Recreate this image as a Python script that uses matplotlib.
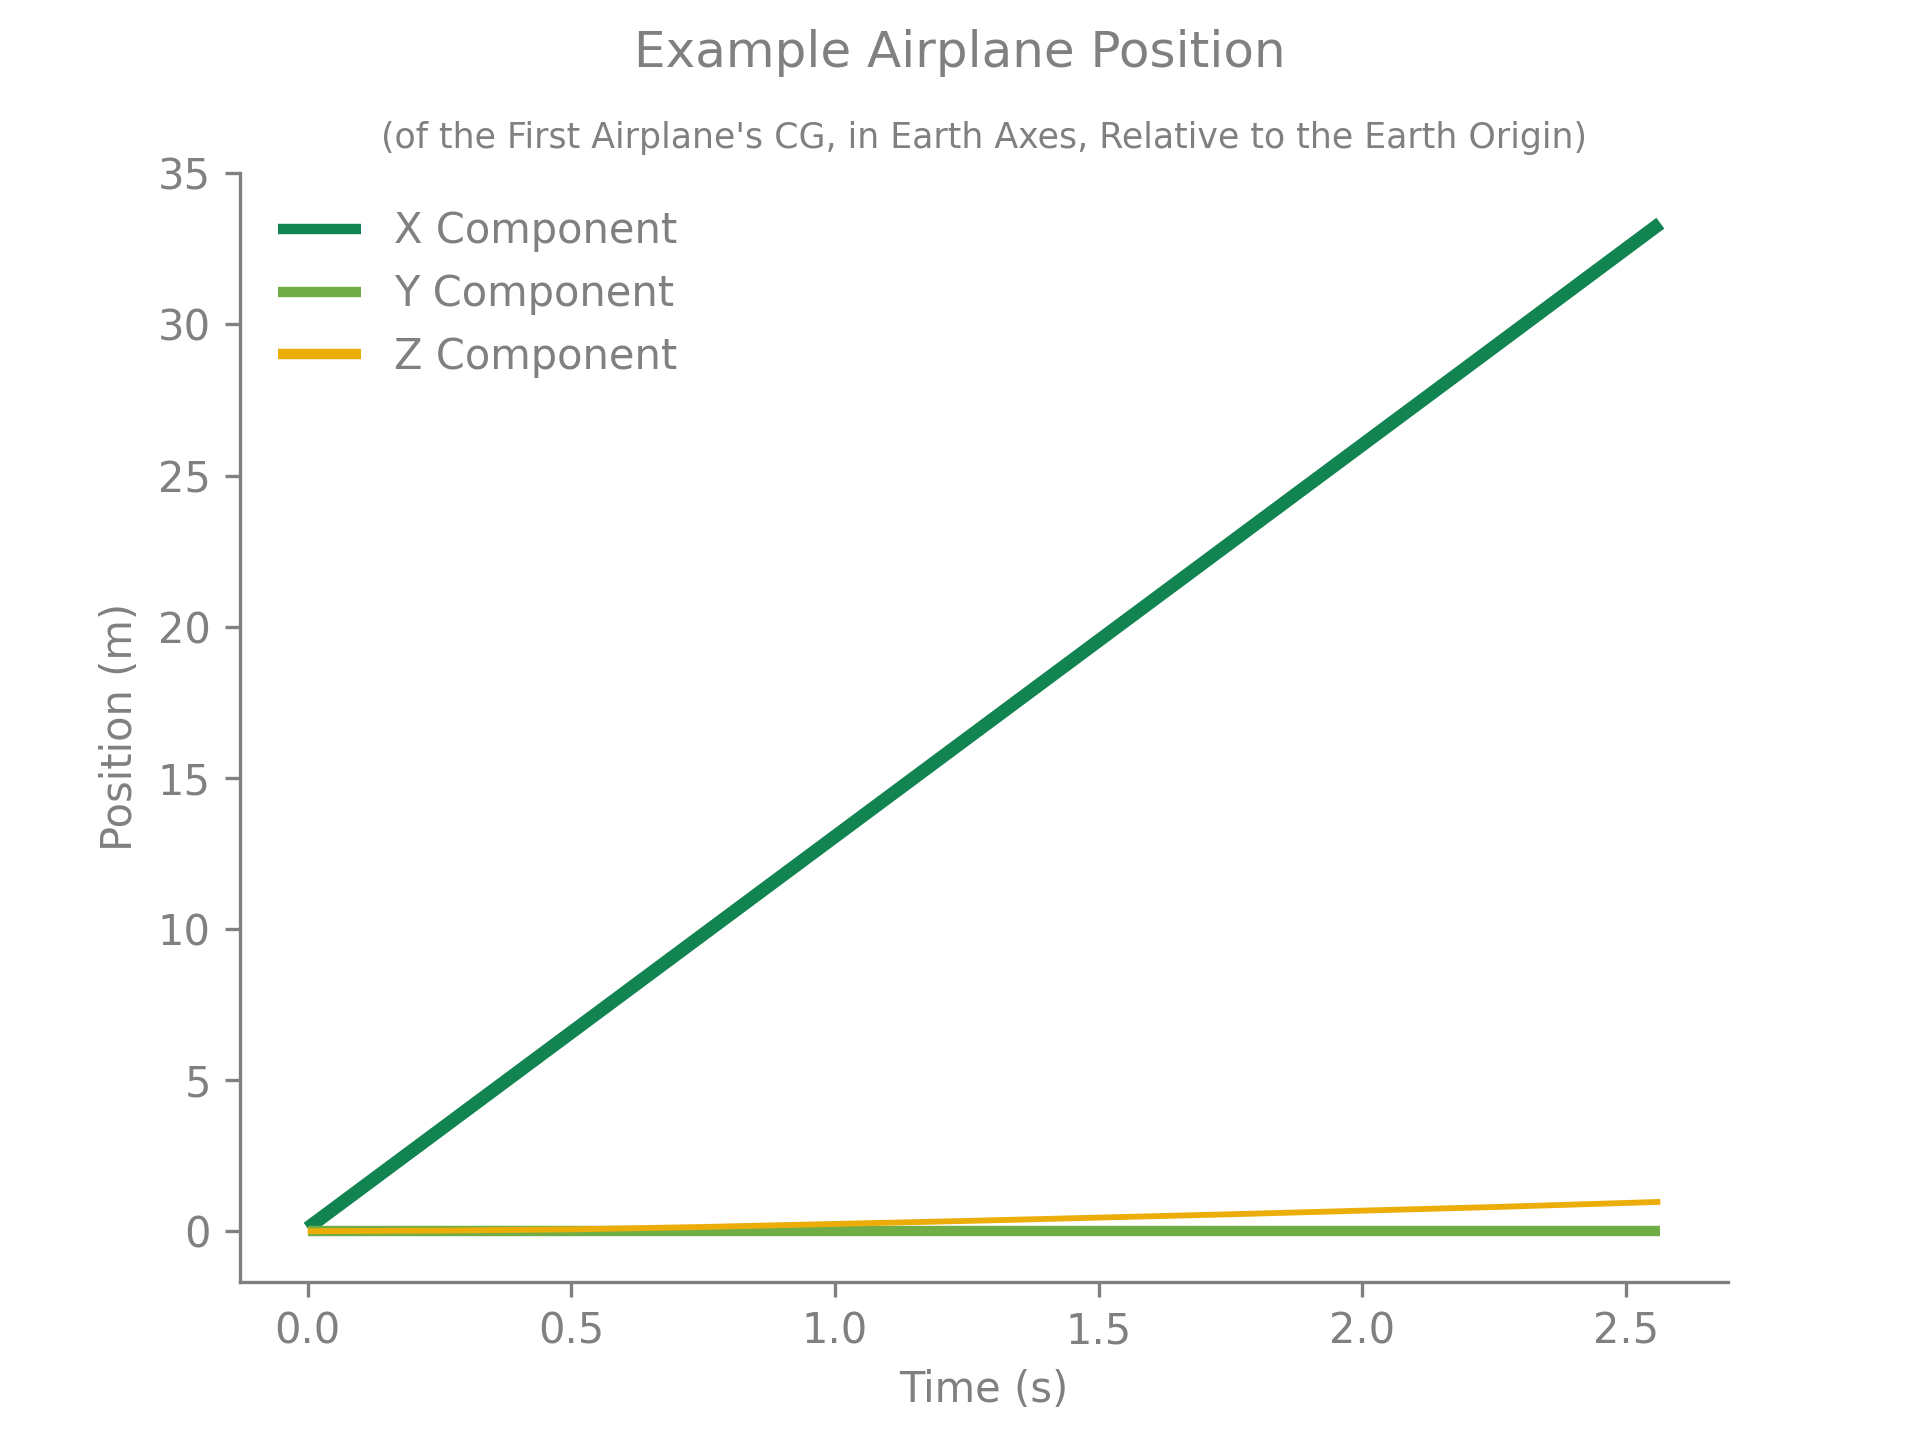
import matplotlib
matplotlib.use('Agg')
import matplotlib.pyplot as plt

# Time (s) and earth-axes position components (m).
timeS = [0.0, 0.25, 0.5, 0.75, 1.0, 1.25, 1.5, 1.75, 2.0, 2.25, 2.565]
posX = [0.1, 3.34, 6.58, 9.82, 13.06, 16.3, 19.54, 22.78, 26.02, 29.26, 33.35]
posY = [0.0, 0.0, 0.0, 0.0, 0.0, 0.0, 0.0, 0.0, 0.0, 0.0, 0.0]
posZ = [0.0, 0.02, 0.06, 0.14, 0.24, 0.34, 0.45, 0.56, 0.68, 0.8, 0.97]

labels = ['X Component', 'Y Component', 'Z Component']
colors = ['#118452', '#70AD47', '#EDAD08']
widths = [3.2, 2.5, 1.4]

grey = '#808080'
params = {'font.size': 10,
          'text.color': grey,
          'axes.labelcolor': grey,
          'axes.edgecolor': grey,
          'xtick.color': grey,
          'ytick.color': grey,
          'axes.titlecolor': grey,
          'lines.solid_capstyle': 'butt'}
plt.rcParams.update(params)

fig, ax = plt.subplots(figsize=(6.4, 4.8), dpi=300)

for series, lab, col, lw in zip([posX, posY, posZ], labels, colors, widths):
    ax.plot(timeS, series, color=col, linewidth=lw, label=lab)

fig.suptitle('Example Airplane Position', fontsize=12)
ax.set_title("(of the First Airplane's CG, in Earth Axes, "
             "Relative to the Earth Origin)", fontsize='small')
ax.set_xlabel('Time (s)')
ax.set_ylabel('Position (m)')

ax.spines['top'].set_visible(False)
ax.spines['right'].set_visible(False)

leg = ax.legend(loc='upper left', frameon=False)
for line in leg.get_lines():
    line.set_linewidth(2.5)

fig.savefig('out.png', dpi=300)
